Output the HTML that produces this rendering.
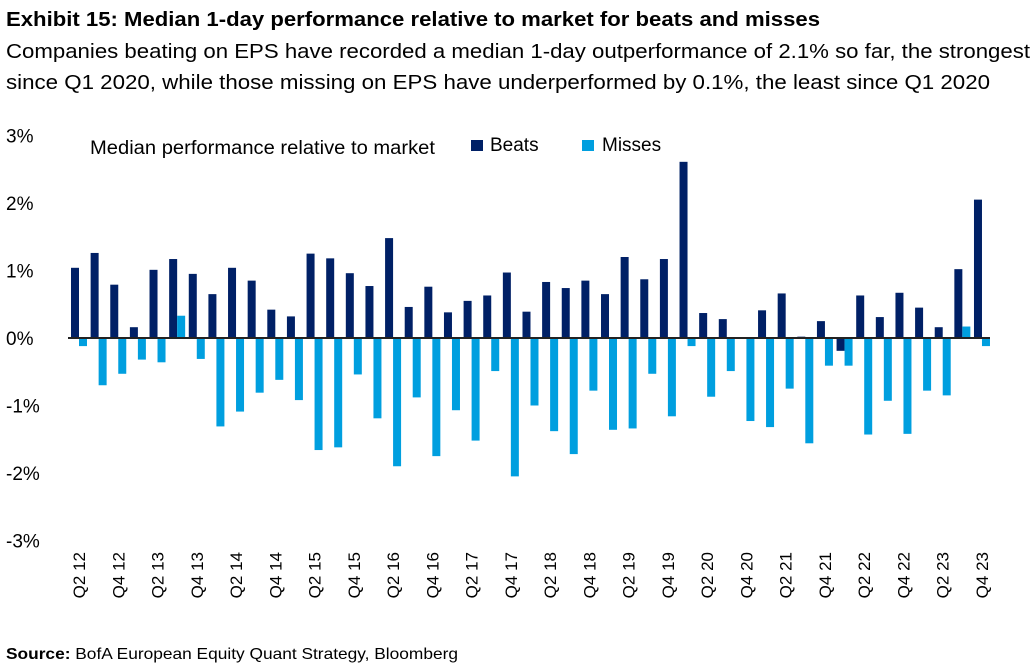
<!DOCTYPE html>
<html><head><meta charset="utf-8"><style>
body{margin:0;width:1036px;height:669px;background:#fff;font-family:"Liberation Sans",sans-serif;overflow:hidden;position:relative}
</style></head><body>
<svg id="chart" width="1036" height="669" style="position:absolute;left:0;top:0;font-family:'Liberation Sans',sans-serif">
<text x="6" y="26" font-size="20" font-weight="bold" textLength="814" lengthAdjust="spacingAndGlyphs">Exhibit 15: Median 1-day performance relative to market for beats and misses</text>
<text x="6" y="58" font-size="20" textLength="1024" lengthAdjust="spacingAndGlyphs">Companies beating on EPS have recorded a median 1-day outperformance of 2.1% so far, the strongest</text>
<text x="6" y="89" font-size="20" textLength="984" lengthAdjust="spacingAndGlyphs">since Q1 2020, while those missing on EPS have underperformed by 0.1%, the least since Q1 2020</text>
<text x="6" y="659" font-size="16" textLength="452" lengthAdjust="spacingAndGlyphs"><tspan font-weight="bold">Source:</tspan> BofA European Equity Quant Strategy, Bloomberg</text>
</svg>
<script>
const beats=[1.04,1.26,0.79,0.16,1.01,1.17,0.95,0.65,1.04,0.85,0.42,0.32,1.25,1.18,0.96,0.77,1.48,0.46,0.76,0.38,0.55,0.63,0.97,0.39,0.83,0.74,0.85,0.65,1.2,0.87,1.17,2.61,0.37,0.28,0,0.41,0.66,0.02,0.25,-0.19,0.63,0.31,0.67,0.45,0.16,1.02,2.05];
const misses=[-0.12,-0.7,-0.53,-0.32,-0.36,0.33,-0.31,-1.31,-1.09,-0.81,-0.62,-0.92,-1.66,-1.62,-0.54,-1.19,-1.9,-0.88,-1.75,-1.07,-1.52,-0.49,-2.05,-1.0,-1.38,-1.72,-0.78,-1.36,-1.34,-0.53,-1.16,-0.12,-0.87,-0.49,-1.23,-1.32,-0.75,-1.56,-0.41,-0.41,-1.43,-0.93,-1.42,-0.78,-0.85,0.17,-0.12];
const categories=[];
(function(){let q=2,y=12;for(let i=0;i<47;i++){categories.push('Q'+q+' '+y);q++;if(q>4){q=1;y++;}}})();
const yTicks=[3,2,1,0,-1,-2,-3];
const NS='http://www.w3.org/2000/svg',svg=document.getElementById('chart');
const Y=v=>338-v*67.5, X=i=>79+i*19.63;
function mk(t,a){const e=document.createElementNS(NS,t);for(const k in a)e.setAttribute(k,a[k]);svg.appendChild(e);return e;}
yTicks.forEach(v=>{const e=mk('text',{x:6,y:Y(v)+7,'font-size':19,fill:'#000'});e.textContent=v+'%';

});
beats.forEach((v,i)=>{const e=mk('rect',{x:X(i)-8,y:Math.min(Y(v),338),width:8,height:Math.abs(Y(v)-338),fill:'#002066'});

});
misses.forEach((v,i)=>{const e=mk('rect',{x:X(i),y:Math.min(Y(v),338),width:8,height:Math.abs(Y(v)-338),fill:'#009fdf'});

});
const z=mk('line',{x1:68,x2:990,y1:338,y2:338,stroke:'#222',"stroke-width":2});


categories.forEach((c,i)=>{if(i%2)return;const x=X(i)+6,e=mk('text',{x:x,y:552,'font-size':17,fill:'#000','text-anchor':'end',transform:`rotate(-90 ${x} 552)`});e.textContent=c;

});
let e=mk('text',{x:90,y:154,'font-size':19,fill:'#000',textLength:345,lengthAdjust:'spacingAndGlyphs'});e.textContent='Median performance relative to market';


e=mk('rect',{x:471,y:140,width:12,height:11,fill:'#002066'});


e=mk('text',{x:490,y:151,'font-size':19,fill:'#000'});e.textContent='Beats';


e=mk('rect',{x:582,y:140,width:12,height:11,fill:'#009fdf'});


e=mk('text',{x:602,y:151,'font-size':19,fill:'#000'});e.textContent='Misses';


</script>
</body></html>
